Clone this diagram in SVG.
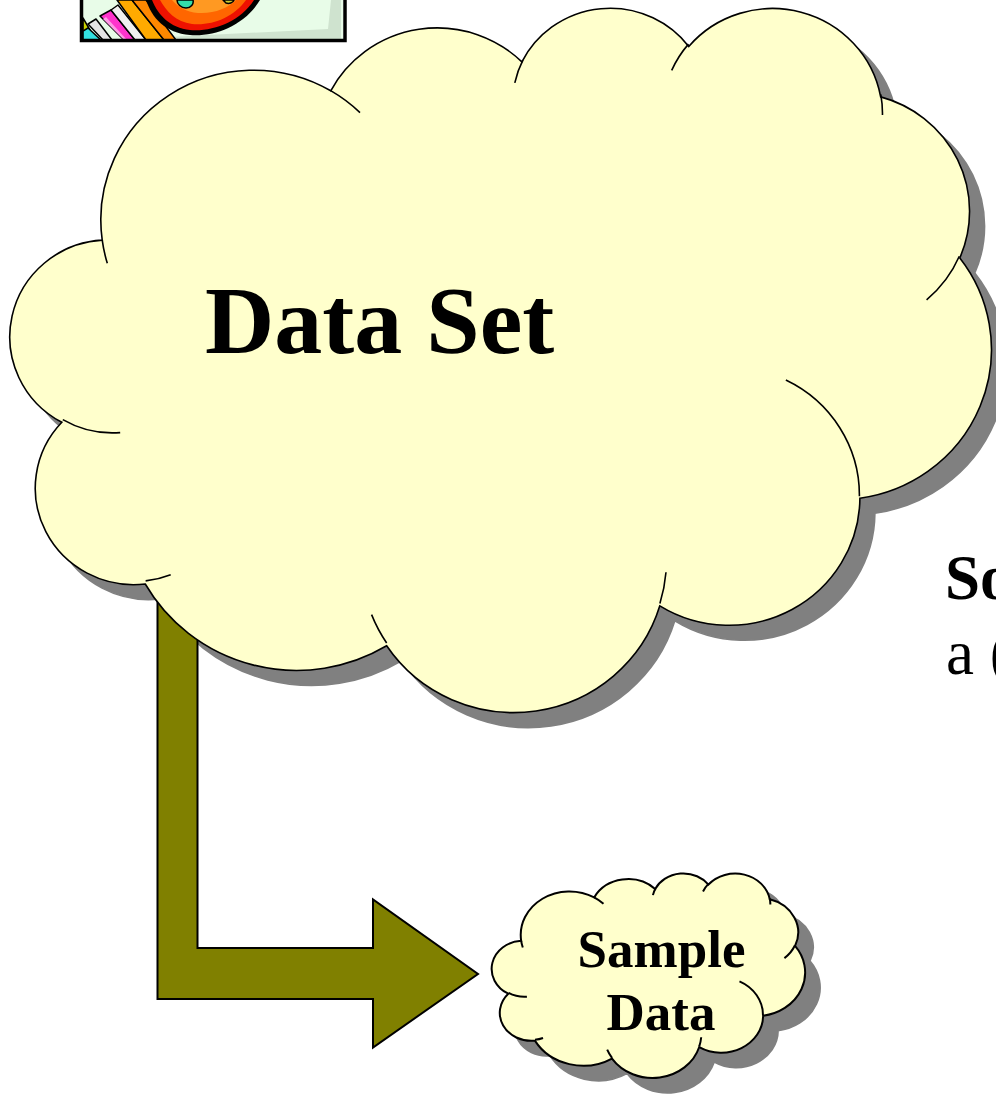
<svg xmlns="http://www.w3.org/2000/svg" width="996" height="1101" viewBox="0 0 996 1101">
  <style>
    .cloud { fill: #ffffcc; stroke: #000; stroke-width: 1.6; }
    .cloud-shadow { fill: #808080; stroke: #808080; stroke-width: 1.6; }
    .cloud-fold { fill: none; stroke: #000; stroke-width: 1.6; }
    .label { font-family: "Liberation Serif", "Times New Roman", serif; font-weight: bold; fill: #000; }
    .plain { font-family: "Liberation Serif", "Times New Roman", serif; font-weight: normal; fill: #000; }
    .arrow { fill: #808000; stroke: #000; stroke-width: 2; stroke-linejoin: miter; }
    .ink { stroke: #000; stroke-width: 1.5; stroke-linejoin: round; }
  </style>
  <defs>
    <!-- cloud outline in a 979 x 705 box; scaled per node -->
    <path id="cloud-outline" vector-effect="non-scaling-stroke" d="M88.4 234.5 A153 150 0 0 1 317.4 84.9 A120.9 118.6 0 0 1 508.9 56 A98.9 97 0 0 1 676.1 40.5 A110.1 107.6 0 0 1 868.4 91 A120.9 118.7 0 0 1 947.7 252.3 A153.5 150.5 0 0 1 847.6 492.9 A131.1 128.4 0 0 1 647.1 600.7 A153 150.4 0 0 1 373.4 640.7 A174.9 172.1 0 0 1 131.5 578.8 A98.8 96.6 0 0 1 47.9 416.9 A98.5 97 0 0 1 88.4 234.5 Z"/>
    <!-- the short inner arcs where the puffs overlap -->
    <path id="cloud-folds" vector-effect="non-scaling-stroke" d="M106.4 427.2 A98.5 97 0 0 1 48.9 414.2 M157 569.5 A98.8 96.6 0 0 1 131.9 575.7 M373.4 637.9 A153 150.4 0 0 1 358.3 609.5 M653.3 567.1 A153 150.4 0 0 1 647.2 598.3 M773.4 374.6 A131.1 128.4 0 0 1 847.1 491 M947.2 250.6 A120.9 118.7 0 0 1 914.4 294.2 M868.5 88.5 A110.1 107.6 0 0 1 870.2 109.2 M659 64.5 A110.1 107.6 0 0 1 675.8 38.2 M501.8 77 A98.9 97 0 0 1 509.9 54.3 M317.3 84.7 A153 150 0 0 1 346.7 106.7 M93.5 257.7 A153 150 0 0 1 88.4 234.5"/>
    <clipPath id="clipart-area">
      <rect x="83" y="0" width="260" height="39.5"/>
    </clipPath>
  </defs>

  <!-- clip-art picture, top left -->
  <g id="clipart">
    <g clip-path="url(#clipart-area)">
      <rect x="83" y="0" width="260" height="40" fill="#e8fce8"/>
      <polygon points="168,37 328,29 331,0 341,0 341,40 168,40" fill="#cfe3cf"/>
      <polygon points="83,18 90,30 83,31" fill="#c8d200" class="ink"/>
      <polygon points="83,31 88,28 101,40 83,40" fill="#33e0e0" class="ink"/>
      <polygon points="88,24 96,19 112,40 103,40" fill="#e4e4e4" class="ink"/>
      <polygon points="100,16 111,10 135,40 124,40" fill="#ff33cc" class="ink"/>
      <polygon points="103,19 106,17 127,40 124,40" fill="#ff99e6"/>
      <polygon points="111,10 118,5 146,40 135,40" fill="#f0f0f0" class="ink"/>
      <polygon points="117,0 132,0 164,40 146,40" fill="#ffaa00" class="ink"/>
      <polygon points="132,0 146,0 176,40 164,40" fill="#ff8800" class="ink"/>
      <path d="M146 0 C152 18 165 33 190 35 C215 37 245 25 260 0 Z" fill="#000"/>
      <path d="M152 0 C158 15 170 28 190 30 C212 32 240 22 254 0 Z" fill="#ee1100"/>
      <path d="M160 0 C166 11 176 22 192 24 C212 26 234 17 246 0 Z" fill="#ff6600"/>
      <path d="M172 0 C178 7 186 12 198 13 C214 14 228 8 236 0 Z" fill="#ff9922"/>
      <path d="M177 0 L193 0 C194 4 191 8 186 8 C181 8 177 4 177 0 Z" fill="#33ddaa" class="ink"/>
      <path d="M223 0 L234 0 C233 3 229 4 226 3 Z" fill="#cccc33" class="ink"/>
    </g>
    <rect x="81.5" y="-10" width="263.5" height="50.5" fill="none" stroke="#000" stroke-width="3.5"/>
  </g>

  <!-- shadow of the large cloud sits under the connector -->
  <g id="data-set-shadow">
    <use href="#cloud-outline" class="cloud-shadow" transform="translate(29,21) scale(0.998,0.9986)"/>
  </g>

  <g id="connectors">
    <polygon id="bent-arrow" class="arrow" points="157.5,560 197.5,560 197.5,948 373,948 373,899.5 478,974 373,1047.5 373,999 157.5,999"/>
  </g>

  <g id="data-set">
    <use href="#cloud-outline" class="cloud" transform="translate(14,6) scale(0.998,0.9986)"/>
    <use href="#cloud-folds" class="cloud-fold" transform="translate(14,6) scale(0.998,0.9986)"/>
    <text class="label" x="205" y="353" font-size="96">Data Set</text>
  </g>

  <g id="sample-data">
    <use href="#cloud-outline" class="cloud-shadow" transform="translate(508,887.8) scale(0.3187,0.29)"/>
    <use href="#cloud-outline" class="cloud" style="stroke-width:2" transform="translate(493,872.8) scale(0.3187,0.29)"/>
    <use href="#cloud-folds" class="cloud-fold" style="stroke-width:2" transform="translate(493,872.8) scale(0.3187,0.29)"/>
    <text class="label" font-size="53" text-anchor="middle" x="661.5" y="967">Sample</text>
    <text class="label" font-size="53" text-anchor="middle" x="661" y="1030">Data</text>
  </g>

  <g id="side-text">
    <text class="label" x="945" y="599" font-size="63">So</text>
    <text class="plain" x="946" y="674" font-size="63">a (</text>
  </g>
</svg>
